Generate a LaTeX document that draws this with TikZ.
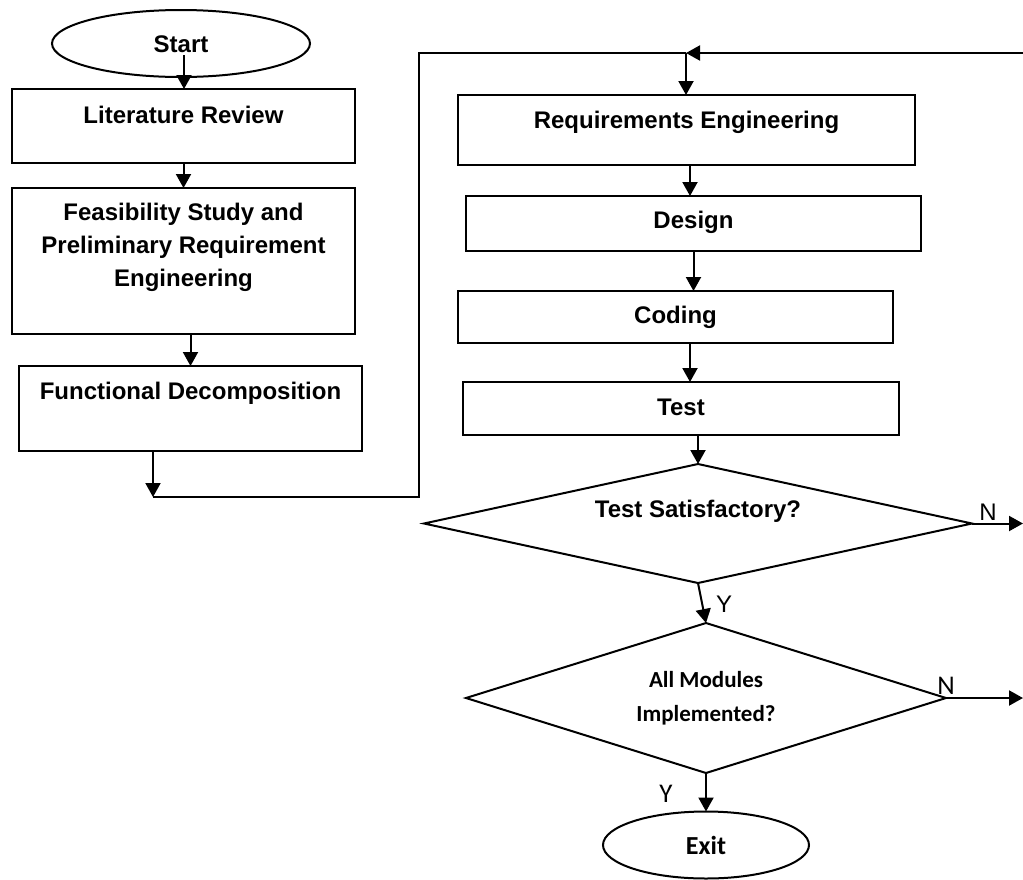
\documentclass[tikz,border=0pt]{standalone}
\usepackage{fontspec}
\setmainfont{Liberation Sans}
\newfontfamily\calfont{Carlito}
\usetikzlibrary{shapes.geometric,arrows.meta,calc}
\begin{document}
\begin{tikzpicture}[x=1pt,y=-1pt,
  outline/.style={draw, line width=2pt, inner sep=0pt, outer sep=0pt},
  arialbold/.style={font=\fontsize{24}{33}\selectfont\bfseries},
  stepbox/.style={outline, rectangle, arialbold, text height=17pt},
  decision/.style={outline, diamond},
  terminal/.style={outline, ellipse},
  flow/.style={line width=2pt, -{Triangle[length=14pt,width=15pt]}},
  wire/.style={line width=2pt},
  branch/.style={inner sep=0pt, text depth=0pt},
]
\useasboundingbox (0,0) rectangle (1023,879);

% left column: preparation phase
\node[terminal, arialbold, text height=17pt, text depth=0pt,
      minimum width=258pt, minimum height=67pt] (start) at (181,43.5) {Start};
\node[stepbox, minimum width=343pt, minimum height=74pt, text depth=22pt]
      (lit) at (183.5,126) {Literature Review};
\node[outline, rectangle, minimum width=343pt, minimum height=146pt,
      label={[arialbold, align=center, yshift=13.5pt]center:Feasibility Study and\\Preliminary Requirement\\Engineering}]
      (feas) at (183.5,261) {};
\node[stepbox, minimum width=343pt, minimum height=85pt, text depth=35pt]
      (fd) at (190.5,408.5) {Functional Decomposition};

% right column: iterative development cycle
\node[stepbox, minimum width=457pt, minimum height=70pt, text depth=20.6pt]
      (req) at (686.5,130) {Requirements Engineering};
\node[stepbox, minimum width=455pt, minimum height=55pt, text depth=7.6pt]
      (design) at (693.5,223.5) {Design};
\node[stepbox, minimum width=435pt, minimum height=52pt, text depth=4pt]
      (coding) at (675.5,317) {Coding};
\node[stepbox, minimum width=436pt, minimum height=53pt, text depth=4pt]
      (test) at (681,408.5) {Test};
\node[decision, arialbold, text height=17pt, text depth=30pt, aspect=4.6,
      minimum width=548pt, minimum height=119pt] (sat) at (698,523.5) {Test Satisfactory?};
\node[decision, font=\calfont\bfseries\fontsize{23}{33.5}\selectfont, align=center,
      aspect=3.2, minimum width=480pt, minimum height=150pt] (mods) at (706,698) {All Modules\\Implemented?};
\node[terminal, font=\calfont\bfseries\fontsize{26}{30}\selectfont,
      minimum width=206pt, minimum height=67pt] (exit) at (706,845) {Exit};

% branch labels
\node[branch, font=\fontsize{24}{28}\selectfont, text height=17pt] (n1) at (988,512) {N};
\node[branch, font=\fontsize{24}{28}\selectfont, text height=17pt] (y1) at (724,604) {Y};
\node[branch, font=\calfont\fontsize{27}{30}\selectfont, text height=17.4pt] (n2) at (946,686) {N};
\node[branch, font=\calfont\fontsize{27}{30}\selectfont, text height=17.4pt] (y2) at (666,794) {Y};

% routing points of the feedback line
\coordinate (drop) at (153,497);
\coordinate (bend) at (419,497);
\coordinate (rise) at (419,53);
\coordinate (join) at (686,53);
\coordinate (rim) at (1023,53);

% connectors
\draw[flow] ($(start.center)+(3,11.5)$) -- ($(start.center |- lit.north)+(3,0)$);
\draw[flow] (lit.south) -- (feas.north);
\draw[flow] (feas.south -| fd.north) -- (fd.north);
\draw[flow] (fd.south -| drop) -- (drop);
\draw[wire] (drop) -- (bend) -- (rise) -- (join);
\draw[flow] (rim) -- (join);
\draw[flow] (join) -- (join |- req.north);
\draw[flow] ($(req.south)+(3.5,0)$) -- ($(req.south |- design.north)+(3.5,0)$);
\draw[flow] (design.south) -- (design.south |- coding.north);
\draw[flow] ($(coding.south)+(14.5,0)$) -- ($(coding.south |- test.north)+(14.5,0)$);
\draw[flow] (test.south -| sat.north) -- (sat.north);
\draw[flow] (sat.south) -- (mods.north);
\draw[flow] (sat.east) -- (sat.east -| rim);
\draw[flow] (mods.east) -- (mods.east -| rim);
\draw[flow] (mods.south) -- (mods.south |- exit.north);
\end{tikzpicture}
\end{document}
